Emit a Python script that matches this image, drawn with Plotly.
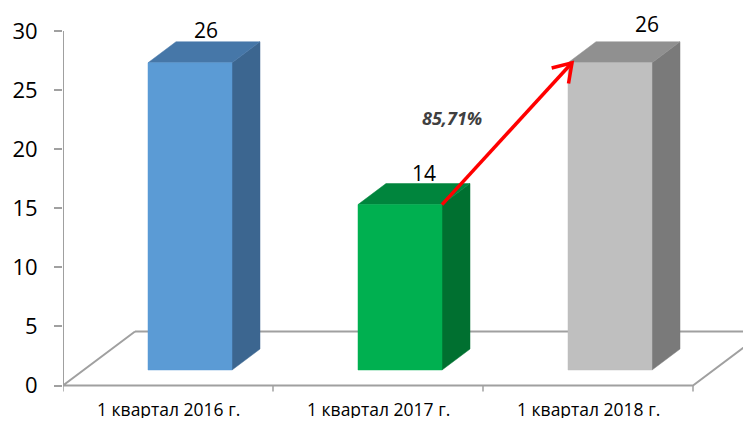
import math
import plotly.graph_objects as go

# ---- data ----
categories = ["1 квартал 2016 г.", "1 квартал 2017 г.", "1 квартал 2018 г."]
values = [26, 14, 26]
y_ticks = [0, 5, 10, 15, 20, 25, 30]

# ---- style ----
front_colors = ["#5B9BD5", "#00B050", "#BFBFBF"]
top_colors = ["#4677A8", "#00853D", "#909090"]
side_colors = ["#3C6690", "#007030", "#7A7A7A"]
axis_color = "#A0A0A0"
FONT = "Open Sans"

# page body has an 8px margin, so the figure is sized to fit the window
W, H = 743, 413
ML, MR, MT, MB = 55, 0, 0, 0
PX_X = 210.0      # px per category
PX_Y = 11.817     # px per value unit
Y0_PX = 377.5     # figure px (from top) of value 0
XR = [-0.5, -0.5 + (W - ML - MR) / PX_X]
YR = [-(H - Y0_PX) / PX_Y, Y0_PX / PX_Y]


def px_x(p):
    return p / PX_X


def px_y(p):
    return p / PX_Y


# 3D geometry (oblique projection)
BAR_SHIFT = px_x(22)
HALF_W = px_x(42)
DEPTH_X = px_x(28)
DEPTH_Y = px_y(21)
FRONT_BASE = px_y(15.5)
FLOOR_DX = px_x(72)
FLOOR_DY = px_y(54)

fig = go.Figure()

# ---- floor & axes lines ----
n = len(categories)
fx0, fx1 = -0.5, n - 0.5
fig.add_trace(go.Scatter(x=[fx0 + FLOOR_DX, fx0, fx1, fx1 + FLOOR_DX], y=[FLOOR_DY, 0, 0, FLOOR_DY],
                         mode="lines", line=dict(color=axis_color, width=2), hoverinfo="skip"))
fig.add_trace(go.Scatter(x=[fx0 + FLOOR_DX, fx1 + FLOOR_DX], y=[FLOOR_DY, FLOOR_DY], mode="lines",
                         line=dict(color=axis_color, width=2), hoverinfo="skip"))
fig.add_trace(go.Scatter(x=[fx0, fx0], y=[0, y_ticks[-1]], mode="lines",
                         line=dict(color=axis_color, width=2), hoverinfo="skip"))
tx, ty = [], []
for k in range(n + 1):
    tx += [fx0 + k, fx0 + k, None]
    ty += [0, -px_y(6), None]
fig.add_trace(go.Scatter(x=tx, y=ty, mode="lines",
                         line=dict(color=axis_color, width=1.5), hoverinfo="skip"))

# ---- bars ----
bar_tops = []
for i, v in enumerate(values):
    cx = i + BAR_SHIFT
    x0, x1 = cx - HALF_W, cx + HALF_W
    yb, yt = FRONT_BASE, FRONT_BASE + v
    bar_tops.append((x0, x1, yt))
    polys = [
        ([x1, x1 + DEPTH_X, x1 + DEPTH_X, x1], [yb, yb + DEPTH_Y, yt + DEPTH_Y, yt], side_colors[i]),
        ([x0, x1, x1 + DEPTH_X, x0 + DEPTH_X], [yt, yt, yt + DEPTH_Y, yt + DEPTH_Y], top_colors[i]),
        ([x0, x1, x1, x0], [yb, yb, yt, yt], front_colors[i]),
    ]
    for px, py, col in polys:
        fig.add_trace(go.Scatter(x=px + [px[0]], y=py + [py[0]], mode="lines", fill="toself",
                                 fillcolor=col, line=dict(color=col, width=0.5), hoverinfo="skip"))

# value labels
label_dx_px = [-12, -4, 9]
label_dy_px = [12, 11, 18]
for i, v in enumerate(values):
    x0, x1, yt = bar_tops[i]
    fig.add_annotation(x=(x0 + x1) / 2 + DEPTH_X + px_x(label_dx_px[i]),
                       y=yt + DEPTH_Y + px_y(label_dy_px[i]),
                       text=str(v), showarrow=False, xanchor="center", yanchor="middle",
                       font=dict(family=FONT, size=21, color="#000000"))

# ---- growth arrow from bar 2 to bar 3 ----
sx, sy = bar_tops[1][1], bar_tops[1][2]
ex, ey = bar_tops[2][0] + px_x(4), bar_tops[2][2]
fig.add_trace(go.Scatter(x=[sx, ex], y=[sy, ey], mode="lines",
                         line=dict(color="#FF0000", width=3.5), hoverinfo="skip"))
dxp, dyp = (ex - sx) * PX_X, (ey - sy) * PX_Y
L = math.hypot(dxp, dyp)
ux, uy = -dxp / L, -dyp / L
arm_x, arm_y = [], []
for ang in (math.radians(33), math.radians(-33)):
    rx = ux * math.cos(ang) - uy * math.sin(ang)
    ry = ux * math.sin(ang) + uy * math.cos(ang)
    arm_x.append(ex + px_x(rx * 21))
    arm_y.append(ey + px_y(ry * 21))
fig.add_trace(go.Scatter(x=[arm_x[0], ex, arm_x[1]], y=[arm_y[0], ey, arm_y[1]], mode="lines",
                         line=dict(color="#FF0000", width=3.5), hoverinfo="skip"))

growth = (values[2] - values[1]) / values[1] * 100
fig.add_annotation(x=(sx + ex) / 2 + px_x(-55), y=(sy + ey) / 2 + px_y(16),
                   text=f"<b><i>{growth:.2f}%</i></b>".replace(".", ","), showarrow=False,
                   font=dict(family=FONT, size=18, color="#404040"))

# category labels
for i, c in enumerate(categories):
    fig.add_annotation(x=i, y=-px_y(23.5), text=c, showarrow=False,
                       xanchor="center", yanchor="middle", height=18, valign="middle",
                       borderpad=0,
                       font=dict(family=FONT, size=17.5, color="#000000"))

fig.update_layout(
    width=W, height=H, margin=dict(l=ML, r=MR, t=MT, b=MB, pad=0),
    paper_bgcolor="white", plot_bgcolor="white", showlegend=False,
    xaxis=dict(range=XR, visible=False, fixedrange=True),
    yaxis=dict(range=YR, tickvals=y_ticks, ticks="outside", ticklen=8, tickcolor=axis_color,
               tickwidth=1.5, showline=False, showgrid=False, zeroline=False,
               ticklabelstandoff=12, tickfont=dict(family=FONT, size=22, color="#000000"),
               fixedrange=True),
)

fig.write_html("out.html")
